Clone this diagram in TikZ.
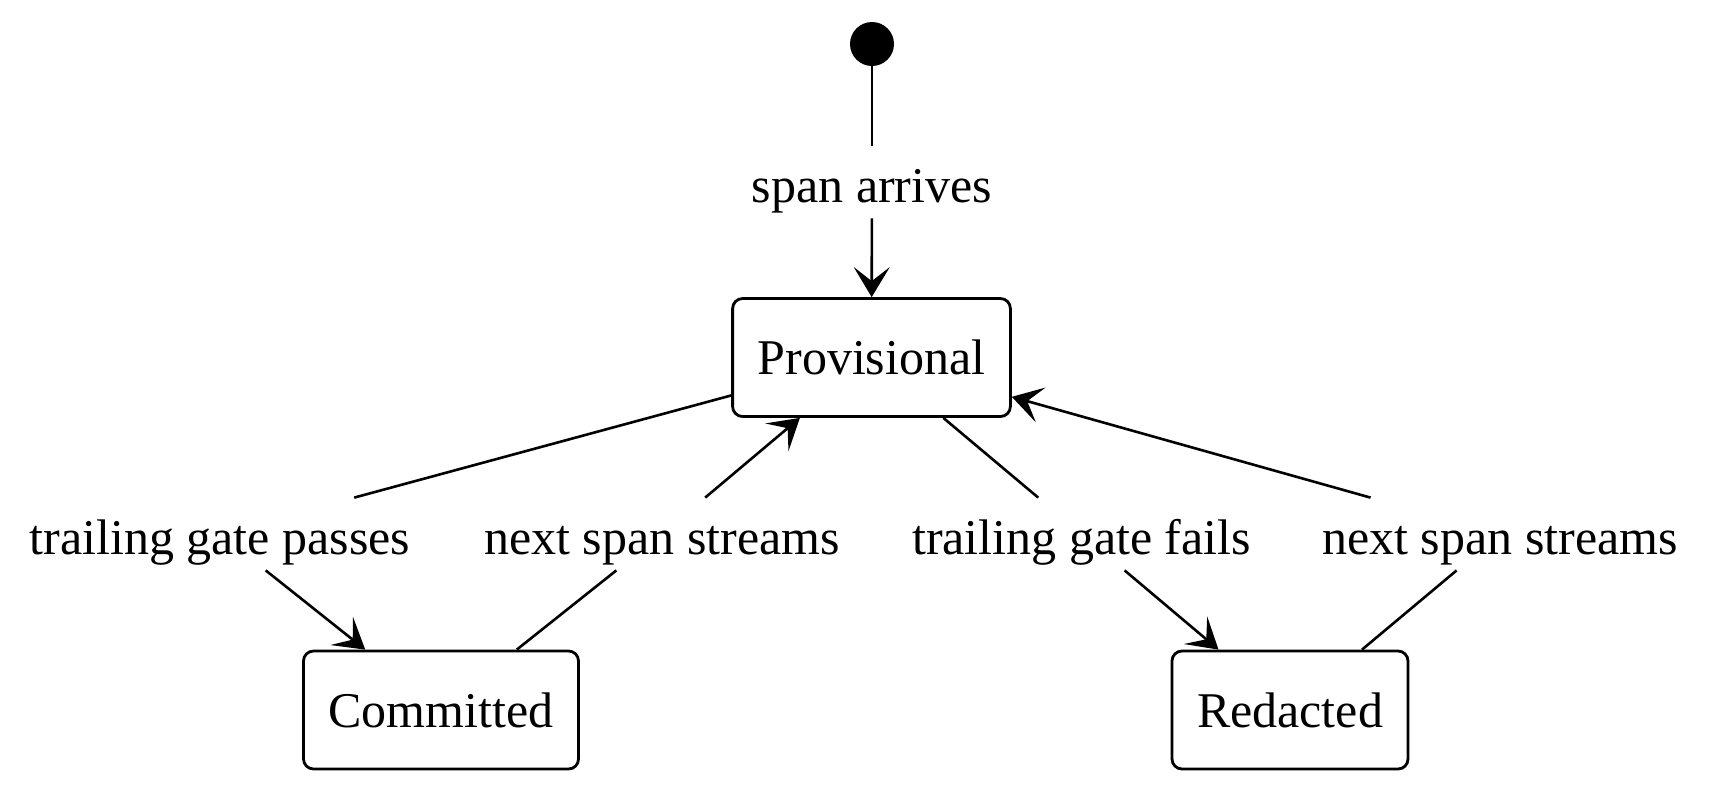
\documentclass[tikz,border=0pt]{standalone}
\usepackage{fontspec}
\setmainfont{Liberation Serif}
\usetikzlibrary{arrows.meta}

\begin{document}
\begin{tikzpicture}[x=0.5pt, y=-0.5pt,
    state/.style={draw, line width=1.4pt, rounded corners=5pt, inner xsep=12.5pt,
        minimum height=59pt, font=\fontsize{25}{30}\selectfont},
    trans/.style={inner xsep=4pt, inner ysep=6pt, text height=22pt, text depth=2pt,
        minimum height=36pt, font=\fontsize{25}{30}\selectfont},
    edge/.style={line width=1.3pt, -{Stealth[length=15pt, width=18pt, inset=7pt]}},
    link/.style={line width=1.3pt}]

\useasboundingbox (0,0) rectangle (1734,804);

% -----------------------------
% States
% -----------------------------
\node[circle, fill, minimum size=22pt, inner sep=0pt] (start) at (872,44) {};
\node[state] (prov) at (871.5,357.5) {Provisional};
\node[state] (comm) at (441,710) {Committed};
\node[state] (red)  at (1290,710) {Redacted};

% -----------------------------
% Transition labels
% -----------------------------
\node[trans] (arrives) at (872,182) {span arrives};
\node[trans] (passes)  at (220,534) {trailing gate passes};
\node[trans] (nextL)   at (662,534) {next span streams};
\node[trans] (fails)   at (1081.5,534) {trailing gate fails};
\node[trans] (nextR)   at (1500,534) {next span streams};

% -----------------------------
% Transitions
% -----------------------------
\draw[link] (start) -- (arrives);
\draw[edge] (arrives) -- (prov);

\draw[link] (prov) -- (passes);   % commit
\draw[edge] (passes) -- (comm);
\draw[link] (comm) -- (nextL);    % back to provisional
\draw[edge] (nextL) -- (prov);

\draw[link] (prov) -- (fails);    % redact
\draw[edge] (fails) -- (red);
\draw[link] (red) -- (nextR);     % back to provisional
\draw[edge] (nextR) -- (prov);

\end{tikzpicture}
\end{document}
